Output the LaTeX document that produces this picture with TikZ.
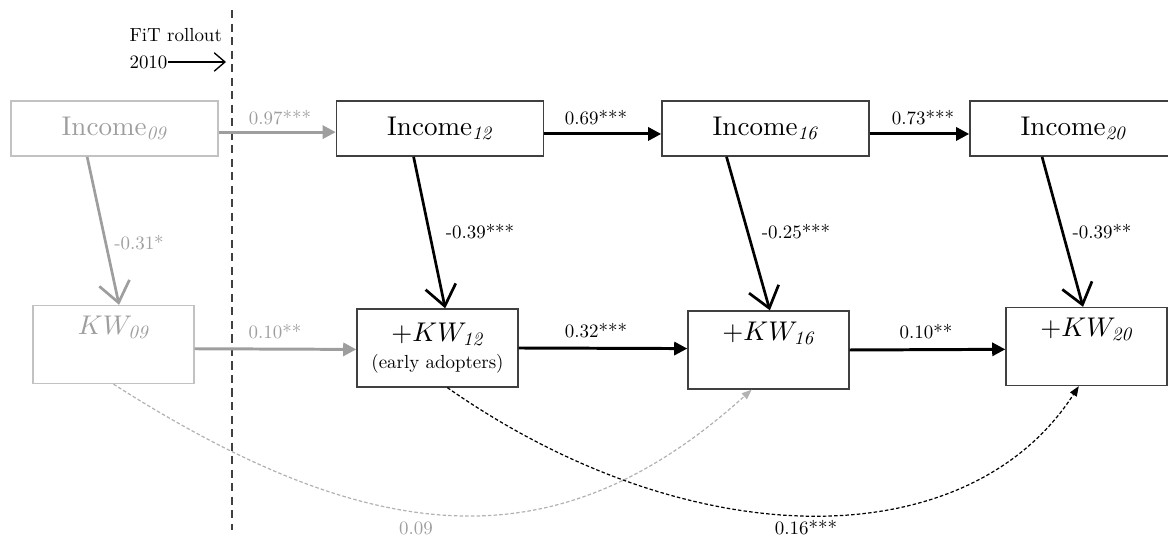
\documentclass[tikz,border=0pt]{standalone}
\usepackage{amsmath}
\usepackage{amssymb}
\usepackage{fontspec}
\setmainfont{lmroman10-regular.otf}[ItalicFont=lmroman10-italic.otf, BoldFont=lmroman10-bold.otf]
\definecolor{fadetext}{gray}{0.62}
\definecolor{fadeline}{gray}{0.76}
\definecolor{fadecurve}{gray}{0.70}
\definecolor{darkline}{gray}{0.25}
\usepackage{tikz}
\usetikzlibrary{arrows.meta}

\begin{document}
\begin{tikzpicture}[x=0.013cm,y=-0.013cm]
\tikzstyle{box}=[rectangle, draw=darkline, semithick, minimum width=2.69cm, minimum height=0.715cm, inner sep=0pt]
\tikzstyle{box0}=[box, draw=fadeline, text=fadetext]
\tikzstyle{kwbase}=[rectangle, draw=darkline, semithick, minimum width=2.09cm, minimum height=1.01cm, inner sep=0pt]
\tikzstyle{kwtwo}=[kwbase, align=center]
\tikzstyle{kwbox}=[kwbase, text height=0.25cm, text depth=0.5cm]
\tikzstyle{kwbox0}=[kwbox, draw=fadeline, text=fadetext]
\tikzstyle{coef}=[font=\scriptsize, inner sep=1pt]
\tikzstyle{coef0}=[coef, text=fadetext]
\tikzstyle{connect}=[-{Triangle[length=1.7mm,width=1.7mm]}, line width=1.1pt]
\tikzstyle{connect0}=[connect, fadetext]
\tikzstyle{drop}=[-{Straight Barb[length=2.6mm,width=4mm]}, line width=1pt]
\tikzstyle{drop0}=[drop, fadetext]
\tikzstyle{lag}=[-{Triangle[length=1.3mm,width=1mm]}, dash pattern=on 1.3pt off 0.8pt, line width=0.45pt]
\tikzstyle{lag0}=[lag, fadecurve]
\useasboundingbox (0,0) rectangle (1168,540);

	\coordinate (cut_top) at (232,10);
	\coordinate (cut_bot) at (232,530);
	\coordinate (cut_mark) at (226,62);
	\draw[darkline, dash pattern=on 3pt off 2pt, line width=0.6pt] (cut_top) -- (cut_bot);

	\node[font=\scriptsize, anchor=west, inner sep=0pt] (fit) at (129,35) {FiT rollout};
	\node[font=\scriptsize, anchor=west, inner sep=0pt] (yr) at (129,62) {2010};
	\draw[-{Straight Barb[length=1.4mm,width=2.4mm]}, line width=0.5pt] (yr) -- (cut_mark);

	\node[box0] (inc_09) at (114.5,128.5) {Income$_{\mathit{09}}$};
	\node[box] (inc_12) at (440,128.5) {Income$_{\mathit{12}}$};
	\node[box] (inc_16) at (765.5,128.5) {Income$_{\mathit{16}}$};
	\node[box] (inc_20) at (1073.5,128.5) {Income$_{\mathit{20}}$};

	\node[kwbox0] (kw_09) at (113.5,344.5) {$KW_{\mathit{09}}$};
	\node[kwtwo] (kw_12) at (437.5,348) {$+KW_{\mathit{12}}$\\[-2pt]{\scriptsize (early adopters)}};
	\node[kwbox] (kw_16) at (768.5,350) {$+KW_{\mathit{16}}$};
	\node[kwbox] (kw_20) at (1086.5,346.5) {$+KW_{\mathit{20}}$};

	\draw[connect0] (inc_09.-2.5) -- (inc_12.182.5);
	\draw[connect] (inc_12.-3.6) -- (inc_16.183.6);
	\draw[connect] (inc_16.-3.6) -- (inc_20.183.6);
	\draw[connect0] (kw_09.-3.2) -- (kw_12.181);
	\draw[connect] (kw_12.-0.7) -- (kw_16.179.3);
	\draw[connect] (kw_16.east) -- (kw_20.182.5);

	\draw[drop0] (inc_09.-134) -- (kw_09.82);
	\draw[drop] (inc_12.-133.4) -- (kw_12.79);
	\draw[drop] (inc_16.-144) -- (kw_16.88);
	\draw[drop] (inc_20.-138) -- (kw_20.95);

	\draw[lag0] (kw_09.south) .. controls (386,558) and (565,558) .. (kw_16.247);
	\draw[lag] (kw_12.284) .. controls (691,558) and (968,558) .. (kw_20.259);

	\node[coef0] (c_inc09) at (280,118) {0.97***};
	\node[coef] (c_inc12) at (596,118) {0.69***};
	\node[coef] (c_inc16) at (923,118) {0.73***};
	\node[coef0] (c_kw09) at (275,332) {0.10**};
	\node[coef] (c_kw12) at (596,331) {0.32***};
	\node[coef] (c_kw16) at (926,332) {0.10**};
	\node[coef0] (d_09) at (139,243) {-0.31*};
	\node[coef] (d_12) at (480,232) {-0.39***};
	\node[coef] (d_16) at (796,232) {-0.25***};
	\node[coef] (d_20) at (1102,232) {-0.39**};
	\node[coef0] (l_09) at (416,528) {0.09};
	\node[coef] (l_12) at (806,528) {0.16***};

\end{tikzpicture}
\end{document}
